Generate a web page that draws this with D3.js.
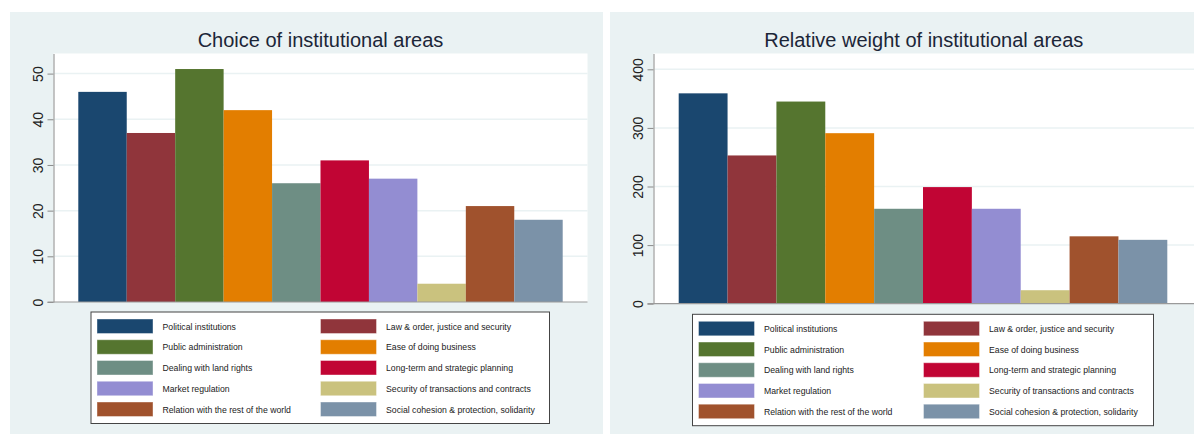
<!DOCTYPE html>
<html>
<head>
<meta charset="utf-8">
<script src="https://cdn.jsdelivr.net/npm/d3@7/dist/d3.min.js"></script>
<style>
  body { margin: 0; background: #ffffff; }
  svg { display: block; font-family: "Liberation Sans", Arial, sans-serif; }
</style>
</head>
<body>
<div id="chart"></div>
<script>
// institutional areas, in bar order
const areas = [
    "Political institutions",
    "Law & order, justice and security",
    "Public administration",
    "Ease of doing business",
    "Dealing with land rights",
    "Long-term and strategic planning",
    "Market regulation",
    "Security of transactions and contracts",
    "Relation with the rest of the world",
    "Social cohesion & protection, solidarity"
];

// left panel: number of times each area was chosen
const choiceCounts = [46, 37, 51, 42, 26, 31, 27, 4, 21, 18];
const choiceTicks = [0, 10, 20, 30, 40, 50];

// right panel: relative weight of each area
const relativeWeights = [359, 253, 345, 291, 162, 199, 162, 23, 115, 109];
const weightTicks = [0, 100, 200, 300, 400];

// stata s2color palette
const barColours = ["#1a476f", "#90353b", "#55752f", "#e37e00", "#6e8e84",
                    "#c10534", "#938dd2", "#cac27e", "#a0522d", "#7b92a8"];

const width = 1194;
const height = 434;

const svg = d3.select('#chart')
    .append('svg')
    .attr('width', width)
    .attr('height', height);

const colour = d3.scaleOrdinal().domain(areas).range(barColours);

// draws one stata-style panel
function panel(opts) {
    const g = svg.append('g');

    // light graph region
    g.append('rect')
        .attr('x', opts.bg[0]).attr('y', opts.bg[1])
        .attr('width', opts.bg[2]).attr('height', opts.bg[3])
        .attr('fill', '#eaf2f3');

    // white plot region
    g.append('rect')
        .attr('x', opts.plot.left).attr('y', opts.plot.top)
        .attr('width', opts.plot.right - opts.plot.left)
        .attr('height', opts.plot.bottom - opts.plot.top)
        .attr('fill', '#ffffff');

    const x = d3.scaleBand()
        .domain(areas)
        .range(opts.bars)
        .padding(0);

    const y = d3.scaleLinear()
        .domain([0, opts.ymax])
        .range([opts.plot.bottom, opts.plot.top]);

    // gridlines
    g.selectAll('.grid')
        .data(opts.ticks.filter(t => t > 0))
        .enter()
        .append('line')
        .attr('x1', opts.plot.left + 1).attr('x2', opts.plot.right)
        .attr('y1', d => y(d)).attr('y2', d => y(d))
        .attr('stroke', '#eaf2f3')
        .attr('stroke-width', 1.5);

    // bars
    g.selectAll('.bar')
        .data(areas.map((a, i) => ({ area: a, value: opts.values[i] })))
        .enter()
        .append('rect')
        .attr('x', d => x(d.area))
        .attr('y', d => y(d.value))
        .attr('width', x.bandwidth())
        .attr('height', d => y(0) - y(d.value))
        .attr('fill', d => colour(d.area));

    // y axis
    const axis = g.append('g')
        .attr('transform', `translate(${opts.plot.left},0)`)
        .call(d3.axisLeft(y).tickValues(opts.ticks).tickSize(6).tickPadding(5).tickSizeOuter(0));
    axis.select('.domain').attr('stroke', '#8a8a8a');
    axis.selectAll('.tick line').attr('stroke', '#8a8a8a');
    axis.selectAll('.tick text')
        .attr('transform', 'rotate(-90)')
        .attr('x', 0)
        .attr('y', -11)
        .attr('dy', 0)
        .attr('text-anchor', 'middle')
        .attr('font-size', 14)
        .attr('fill', '#222');

    // baseline
    g.append('line')
        .attr('x1', opts.plot.left - 6).attr('x2', opts.plot.right)
        .attr('y1', y(0)).attr('y2', y(0))
        .attr('stroke', '#9a9a9a')
        .attr('stroke-width', 1.2);

    // title
    g.append('text')
        .attr('x', (opts.plot.left + opts.plot.right) / 2)
        .attr('y', 47)
        .attr('text-anchor', 'middle')
        .attr('font-size', 20)
        .attr('fill', '#1c2638')
        .text(opts.title);

    // legend
    const L = opts.legend;
    g.append('rect')
        .attr('x', L.x).attr('y', L.y)
        .attr('width', L.w).attr('height', L.h)
        .attr('fill', '#ffffff')
        .attr('stroke', '#444')
        .attr('stroke-width', 1);

    const step = (L.h - 14 - 14.5) / 4;
    const items = g.selectAll('.legend-item')
        .data(areas)
        .enter()
        .append('g')
        .attr('transform', (d, i) => {
            const col = i % 2;
            const row = Math.floor(i / 2);
            return `translate(${L.x + 6 + col * L.col2},${L.y + 7 + row * step})`;
        });

    items.append('rect')
        .attr('width', 56)
        .attr('height', 14.5)
        .attr('fill', d => colour(d))
        .attr('stroke', '#ffffff')
        .attr('stroke-opacity', 0.4);

    items.append('text')
        .attr('x', 65.5)
        .attr('y', 10.5)
        .attr('font-size', 8.7)
        .attr('fill', '#222')
        .text(d => d);
}

panel({
    title: "Choice of institutional areas",
    values: choiceCounts,
    ticks: choiceTicks,
    ymax: 54.4,
    bg: [10, 12, 593, 422],
    plot: { left: 53.5, right: 587.5, top: 53.5, bottom: 302 },
    bars: [78.3, 562.7],
    legend: { x: 91, y: 312, w: 458.5, h: 111.5, col2: 223.5 }
});

panel({
    title: "Relative weight of institutional areas",
    values: relativeWeights,
    ticks: weightTicks,
    ymax: 427,
    bg: [610, 12, 584, 422],
    plot: { left: 653.5, right: 1194, top: 53.5, bottom: 303.7 },
    bars: [678.7, 1167.3],
    legend: { x: 692.5, y: 314.3, w: 461, h: 111.4, col2: 225 }
});
</script>
</body>
</html>
